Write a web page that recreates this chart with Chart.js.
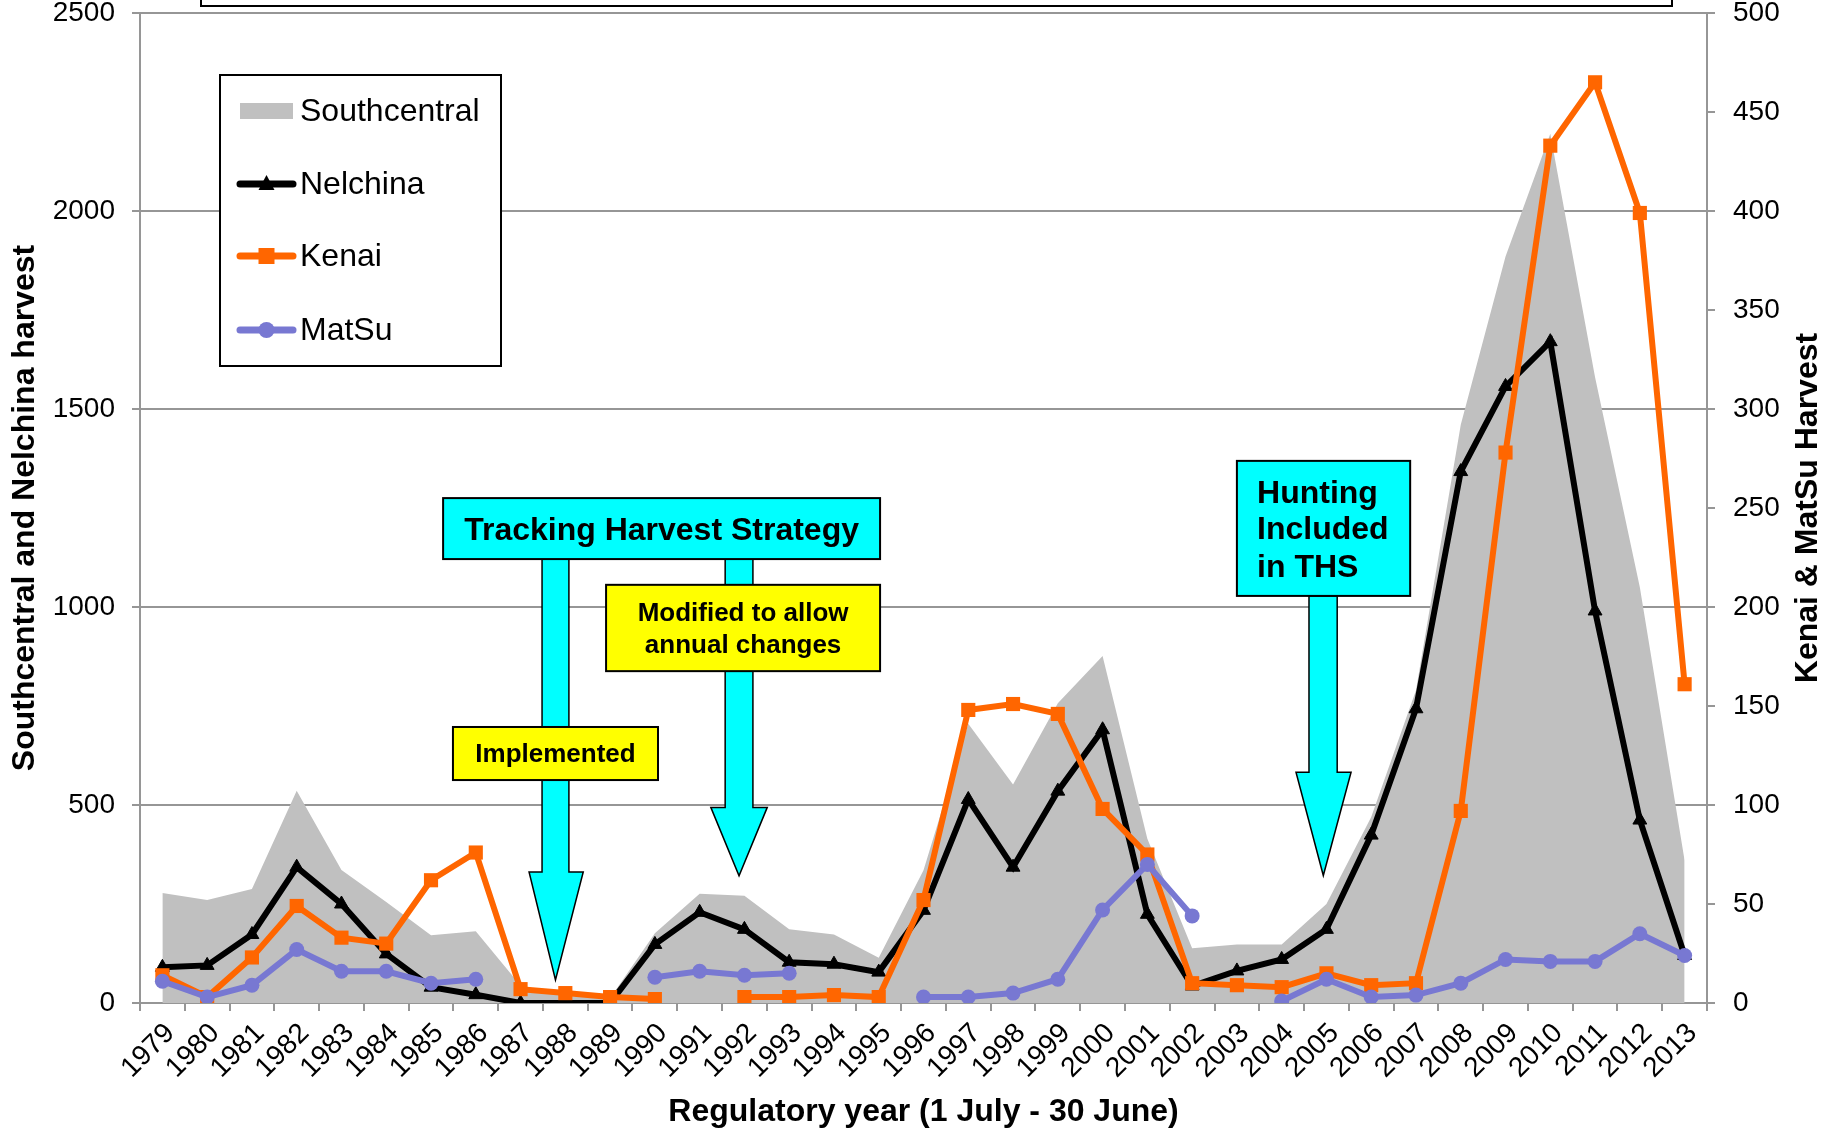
<!DOCTYPE html>
<html>
<head>
<meta charset="utf-8">
<script src="https://cdn.jsdelivr.net/npm/chart.js@4.4.1/dist/chart.umd.min.js"></script>
<style>
html,body{margin:0;padding:0;background:#ffffff;}
#wrap{width:1835px;height:1131px;position:relative;}
</style>
</head>
<body>
<div id="wrap"><canvas id="c" width="1835" height="1131"></canvas></div>
<script>
// ---------- data ----------
const years = ['1979','1980','1981','1982','1983','1984','1985','1986','1987','1988',
  '1989','1990','1991','1992','1993','1994','1995','1996','1997','1998',
  '1999','2000','2001','2002','2003','2004','2005','2006','2007','2008',
  '2009','2010','2011','2012','2013'];
const southcentral = [278,260,288,536,336,255,171,181,44,18,
  12,176,276,271,186,173,114,335,705,552,
  757,876,415,138,148,148,250,470,790,1460,
  1885,2195,1580,1050,360];
const nelchina = [90,95,173,343,250,124,40,21,0,0,
  0,148,229,186,103,98,78,234,514,343,
  535,690,224,43,81,110,186,424,743,1342,
  1557,1670,990,462,120];
const kenai = [14,3,23,49,33,30,62,76,7,5,
  3,2,null,3,3,4,3,52,148,151,
  146,98,75,10,9,8,15,9,10,97,
  278,433,465,399,161];
const matsu = [11,3,9,27,16,16,10,12,null,null,
  null,13,16,14,15,null,null,3,3,5,
  12,47,70,44,null,1,12,3,4,10,
  22,21,21,35,24];
const leftTicks = [0,500,1000,1500,2000,2500];
const rightTicks = [0,50,100,150,200,250,300,350,400,450,500];

const seriesNames = ['Southcentral','Nelchina','Kenai','MatSu'];
const leftTitle = 'Southcentral and Nelchina harvest';
const rightTitle = 'Kenai & MatSu Harvest';
const xTitle = 'Regulatory year (1 July - 30 June)';

// annotations in data units (x = category index, y = left-axis value)
const arrows = [
  {shaft:[8.48,9.08], top:1121, head:[8.19,9.40], headY:331, tipX:8.78, tipY:58},
  {shaft:[12.57,13.19], top:1121, head:[12.25,13.51], headY:494, tipX:12.88, tipY:321},
  {shaft:[25.61,26.24], top:1028, head:[25.32,26.55], headY:583, tipX:25.93, tipY:322}
];
const boxes = [
  {x0:6.27,x1:16.03,y0:1275,y1:1121,fill:'#00FFFF',lines:['Tracking Harvest Strategy'],size:32,align:'center',tx:11.15,ty:[1169]},
  {x0:6.49,x1:11.07,y0:697,y1:563,fill:'#FFFF00',lines:['Implemented'],size:26,align:'center',tx:8.78,ty:[609]},
  {x0:9.91,x1:16.03,y0:1056,y1:838,fill:'#FFFF00',lines:['Modified to allow','annual changes'],size:26,align:'center',tx:12.97,ty:[965,885]},
  {x0:24.00,x1:27.87,y0:1369,y1:1028,fill:'#00FFFF',lines:['Hunting','Included','in THS'],size:32,align:'left',tx:24.45,ty:[1263,1171,1077]}
];

const FONT = "'Liberation Sans', Arial, Helvetica, sans-serif";
const GRID = '#969696';
const ORANGE = '#FF6600';
const PURPLE = '#7878D2';
const GREY = '#C0C0C0';

Chart.defaults.font.family = FONT;
Chart.defaults.color = '#000';

const annotPlugin = {
  id: 'annot',
  afterDatasetsDraw(chart) {
    const ctx = chart.ctx, xs = chart.scales.x, ys = chart.scales.y;
    const X = i => xs.getPixelForValue(i), Y = v => ys.getPixelForValue(v);
    ctx.save();
    ctx.lineJoin = 'miter';
    arrows.forEach(a => {
      ctx.beginPath();
      ctx.moveTo(X(a.shaft[0]), Y(a.top));
      ctx.lineTo(X(a.shaft[1]), Y(a.top));
      ctx.lineTo(X(a.shaft[1]), Y(a.headY));
      ctx.lineTo(X(a.head[1]), Y(a.headY));
      ctx.lineTo(X(a.tipX), Y(a.tipY));
      ctx.lineTo(X(a.head[0]), Y(a.headY));
      ctx.lineTo(X(a.shaft[0]), Y(a.headY));
      ctx.closePath();
      ctx.fillStyle = '#00FFFF';
      ctx.fill();
      ctx.lineWidth = 1.5;
      ctx.strokeStyle = '#000';
      ctx.stroke();
    });
    boxes.forEach(b => {
      const x0 = X(b.x0), x1 = X(b.x1), y0 = Y(b.y0), y1 = Y(b.y1);
      ctx.fillStyle = b.fill;
      ctx.fillRect(x0, y0, x1 - x0, y1 - y0);
      ctx.lineWidth = 2;
      ctx.strokeStyle = '#000';
      ctx.strokeRect(x0, y0, x1 - x0, y1 - y0);
      ctx.fillStyle = '#000';
      ctx.font = 'bold ' + b.size + 'px ' + FONT;
      ctx.textAlign = b.align;
      ctx.textBaseline = 'alphabetic';
      b.lines.forEach((t, k) => ctx.fillText(t, X(b.tx), Y(b.ty[k])));
    });
    ctx.restore();
  },
  afterDraw(chart) {
    const ctx = chart.ctx, ca = chart.chartArea;
    ctx.save();
    // cut-off title box at the top
    ctx.fillStyle = '#fff';
    ctx.fillRect(ca.left + 61, -10, 1471, 16);
    ctx.lineWidth = 2;
    ctx.strokeStyle = '#000';
    ctx.strokeRect(ca.left + 61, -10, 1471, 16);
    // legend
    const lx = ca.left + 80, ly = ca.top + 62, lw = 281, lh = 291;
    ctx.fillStyle = '#fff';
    ctx.fillRect(lx, ly, lw, lh);
    ctx.strokeRect(lx, ly, lw, lh);
    const sx0 = lx + 20, sx1 = lx + 73, tx = lx + 80;
    const rows = [ly + 36, ly + 109, ly + 181, ly + 255];
    ctx.font = '32px ' + FONT;
    ctx.textAlign = 'left';
    ctx.textBaseline = 'middle';
    ctx.fillStyle = GREY;
    ctx.fillRect(sx0, rows[0] - 8, sx1 - sx0, 16);
    const styles = [null, {c:'#000', s:'triangle'}, {c:ORANGE, s:'rect'}, {c:PURPLE, s:'circle'}];
    for (let k = 1; k < 4; k++) {
      const st = styles[k], y = rows[k];
      ctx.beginPath();
      ctx.moveTo(sx0, y); ctx.lineTo(sx1, y);
      ctx.strokeStyle = st.c; ctx.lineWidth = 7; ctx.lineCap = 'round';
      ctx.stroke();
      ctx.lineCap = 'butt';
      ctx.fillStyle = st.c;
      const cx = (sx0 + sx1) / 2;
      ctx.beginPath();
      if (st.s === 'triangle') {
        ctx.moveTo(cx, y - 9); ctx.lineTo(cx + 8, y + 6); ctx.lineTo(cx - 8, y + 6); ctx.closePath();
      } else if (st.s === 'rect') {
        ctx.rect(cx - 8, y - 8, 16, 16);
      } else {
        ctx.arc(cx, y, 8, 0, Math.PI * 2);
      }
      ctx.fill();
    }
    ctx.fillStyle = '#000';
    seriesNames.forEach((n, k) => ctx.fillText(n, tx, rows[k] + 1));
    // right axis title (reads bottom to top)
    ctx.translate(1808, (ca.top + ca.bottom) / 2);
    ctx.rotate(-Math.PI / 2);
    ctx.font = 'bold 32px ' + FONT;
    ctx.textAlign = 'center';
    ctx.textBaseline = 'middle';
    ctx.fillText(rightTitle, 0, 0);
    ctx.restore();
  }
};

const ctx = document.getElementById('c').getContext('2d');
new Chart(ctx, {
  type: 'line',
  data: {
    labels: years,
    datasets: [
      {label: 'MatSu', data: matsu, yAxisID: 'y1', order: 0,
        borderColor: PURPLE, backgroundColor: PURPLE, borderWidth: 6,
        pointStyle: 'circle', pointRadius: 7.5, pointBorderWidth: 0, pointBackgroundColor: PURPLE,
        tension: 0, spanGaps: false, fill: false},
      {label: 'Kenai', data: kenai, yAxisID: 'y1', order: 1,
        borderColor: ORANGE, backgroundColor: ORANGE, borderWidth: 6,
        pointStyle: 'rect', pointRadius: 10, pointBorderWidth: 0, pointBackgroundColor: ORANGE,
        tension: 0, spanGaps: false, fill: false},
      {label: 'Nelchina', data: nelchina, yAxisID: 'y', order: 2,
        borderColor: '#000', backgroundColor: '#000', borderWidth: 6,
        pointStyle: 'triangle', pointRadius: 8, pointBorderWidth: 1, pointBackgroundColor: '#000',
        tension: 0, fill: false},
      {label: 'Southcentral', data: southcentral, yAxisID: 'y', order: 3,
        borderColor: GREY, backgroundColor: GREY, borderWidth: 0,
        pointRadius: 0, tension: 0, fill: 'origin'}
    ]
  },
  options: {
    responsive: false,
    animation: false,
    events: [],
    layout: {padding: {top: 13, left: 0, right: 0, bottom: 0}},
    plugins: {legend: {display: false}, tooltip: {enabled: false}, title: {display: false}},
    elements: {line: {borderJoinStyle: 'miter'}},
    scales: {
      x: {
        type: 'category',
        offset: true,
        grid: {display: true, drawOnChartArea: false, offset: true, tickLength: 8, color: GRID, lineWidth: 2},
        border: {display: true, color: GRID, width: 2},
        ticks: {autoSkip: false, maxRotation: 45, minRotation: 45, font: {size: 28}, color: '#000', padding: 6, labelOffset: 8},
        title: {display: true, text: xTitle, font: {size: 32, weight: 'bold'}, color: '#000', padding: {top: 0, bottom: 0}},
        afterFit(s) { s.height = 128; s.paddingLeft = 0; s.paddingRight = 0; }
      },
      y: {
        position: 'left',
        min: leftTicks[0], max: leftTicks[leftTicks.length - 1],
        afterBuildTicks(s) { s.ticks = leftTicks.map(v => ({value: v})); },
        grid: {color: GRID, lineWidth: 2, tickLength: 8},
        border: {display: true, color: GRID, width: 2},
        ticks: {font: {size: 28}, color: '#000', padding: 17, callback: v => String(v)},
        title: {display: true, text: leftTitle, font: {size: 32, weight: 'bold'}, color: '#000', padding: {top: 6, bottom: 0}},
        afterFit(s) { s.width = 140; s.paddingTop = 0; s.paddingBottom = 0; }
      },
      y1: {
        position: 'right',
        min: rightTicks[0], max: rightTicks[rightTicks.length - 1],
        afterBuildTicks(s) { s.ticks = rightTicks.map(v => ({value: v})); },
        grid: {drawOnChartArea: false, color: GRID, lineWidth: 2, tickLength: 8},
        border: {display: true, color: GRID, width: 2},
        ticks: {font: {size: 28}, color: '#000', padding: 18, callback: v => String(v)},
        afterFit(s) { s.width = 128; s.paddingTop = 0; s.paddingBottom = 0; }
      }
    }
  },
  plugins: [annotPlugin]
});
</script>
</body>
</html>
